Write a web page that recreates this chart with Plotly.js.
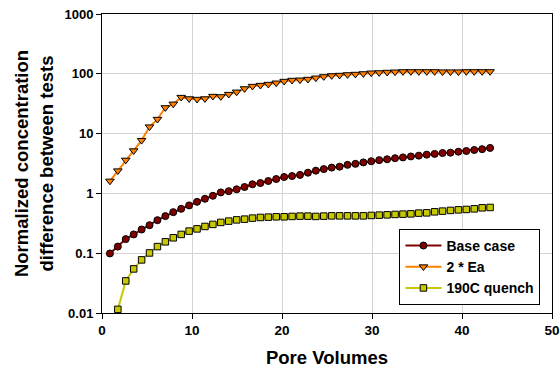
<!DOCTYPE html>
<html><head><meta charset="utf-8">
<script src="https://cdn.plot.ly/plotly-3.0.1.min.js"></script>
<style>html,body{margin:0;padding:0;background:#fff}#chart{width:560px;height:368px}</style>
</head><body><div id="chart"></div>
<script>
const poreVolumes = [0.88,1.76,2.64,3.52,4.40,5.28,6.16,7.04,7.92,8.80,9.68,10.56,11.44,12.32,13.20,14.08,14.96,15.84,16.72,17.60,18.48,19.36,20.24,21.12,22.00,22.88,23.76,24.64,25.52,26.40,27.28,28.16,29.04,29.92,30.80,31.68,32.56,33.44,34.32,35.20,36.08,36.96,37.84,38.72,39.60,40.48,41.36,42.24,43.12];
const baseCase = [0.099,0.129,0.172,0.206,0.249,0.294,0.357,0.417,0.486,0.552,0.63,0.723,0.813,0.912,1.04,1.09,1.17,1.28,1.42,1.49,1.61,1.74,1.88,1.95,2.04,2.22,2.40,2.55,2.70,2.80,3.0,3.12,3.30,3.45,3.6,3.72,3.88,4.0,4.15,4.28,4.45,4.58,4.73,4.8,4.98,5.12,5.32,5.5,5.76];
const twoEa = [1.61,2.39,3.61,5.17,7.72,13.0,17.4,27.2,31.3,40.5,38.4,37.6,38.4,42.2,41.6,45.5,49.7,56.5,62,64.4,67,70.4,75.2,78.2,79,81.2,85.4,89.8,93.3,94.8,97,98.5,100.7,103.5,104.7,106.4,107.6,108.9,109,109,109,109,108,108,108,109,109,109,109];
const quench = [null,0.0115,0.0344,0.0546,0.0773,0.101,0.129,0.155,0.181,0.206,0.234,0.255,0.28,0.303,0.327,0.344,0.361,0.371,0.386,0.396,0.401,0.406,0.406,0.412,0.417,0.417,0.412,0.417,0.421,0.421,0.421,0.421,0.421,0.428,0.433,0.438,0.445,0.45,0.455,0.468,0.473,0.492,0.505,0.519,0.531,0.539,0.552,0.574,0.582];
const seriesNames = ["Base case","2 * Ea","190C quench"];
const yTickVals = [0.01,0.1,1,10,100,1000];
const yTickText = ["0.01","0.1","1","10","100","1000"];
const xTickVals = [0,10,20,30,40,50];

const F = "Liberation Sans, Arial, sans-serif";
const traces = [
  {x: poreVolumes, y: baseCase, name: seriesNames[0], type:"scatter", mode:"lines+markers",
   line:{color:"#800000", width:2}, marker:{symbol:"circle", size:7, color:"#800000", line:{color:"#000", width:1}}},
  {x: poreVolumes, y: twoEa, name: seriesNames[1], type:"scatter", mode:"lines+markers",
   line:{color:"#FF8000", width:2}, marker:{symbol:"triangle-down", size:7.5, color:"#FF8000", line:{color:"#000", width:1}}},
  {x: poreVolumes, y: quench, name: seriesNames[2], type:"scatter", mode:"lines+markers",
   line:{color:"#C8C800", width:2}, marker:{symbol:"square", size:6.5, color:"#C8C800", line:{color:"#000", width:1}}}
];
const layout = {
  width:560, height:368,
  margin:{l:102, r:8, t:14, b:55},
  paper_bgcolor:"#fff", plot_bgcolor:"#fff",
  font:{family:F, color:"#000"},
  showlegend:true,
  legend:{x:0.661, y:0.027, xanchor:"left", yanchor:"bottom", bgcolor:"#fff", bordercolor:"#000", borderwidth:1,
          font:{family:F, size:14, weight:"bold", color:"#000"}, tracegroupgap:0, itemwidth:36},
  xaxis:{range:[0,50], tickvals:xTickVals, showgrid:true, gridcolor:"#d4d4d4", gridwidth:1,
         showline:true, linecolor:"#000", linewidth:1, mirror:true, ticks:"outside", ticklen:5, tickcolor:"#000",
         tickfont:{family:F, size:13.5, weight:"bold"}, zeroline:false,
         title:{text:"Pore Volumes", font:{family:F, size:18.5, weight:"bold"}, standoff:13}},
  yaxis:{type:"log", range:[-2,3], tickvals:yTickVals, ticktext:yTickText, showgrid:true, gridcolor:"#d4d4d4", gridwidth:1,
         showline:true, linecolor:"#000", linewidth:1, mirror:true, ticks:"outside", ticklen:5, tickcolor:"#000",
         tickfont:{family:F, size:13, weight:"bold"}, zeroline:false,
         title:{text:"Normalized concentration<br>difference between tests", font:{family:F, size:18.5, weight:"bold"}, standoff:6}}
};
Plotly.newPlot("chart", traces, layout, {displayModeBar:false, staticPlot:true});
</script></body></html>
